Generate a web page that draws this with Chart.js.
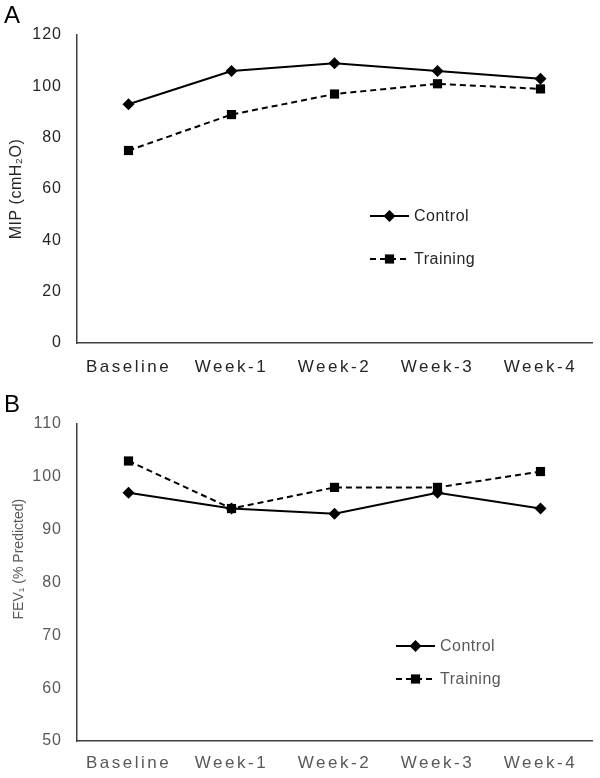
<!DOCTYPE html>
<html lang="en">
<head>
<meta charset="UTF-8">
<title>MIP and FEV1 over training</title>
<script src="https://cdn.jsdelivr.net/npm/chart.js"></script>
<style>
  body { margin: 0; background: #fff; font-family: "Liberation Sans", Arial, sans-serif; }
  #wrap { position: relative; width: 600px; height: 778px; }
  .panel { position: absolute; left: 0; width: 600px; height: 389px; }
  .letter { position: absolute; left: 4px; font-size: 24px; color: #000; line-height: 1; }
</style>
</head>
<body>
<div id="wrap">
  <div class="panel" style="top:0"><canvas id="chartA" width="600" height="389"></canvas></div>
  <div class="panel" style="top:389px"><canvas id="chartB" width="600" height="389"></canvas></div>
  <div class="letter" style="top:3px">A</div>
  <div class="letter" style="top:392px">B</div>
</div>
<script>
// categories
const weeks = ['Baseline', 'Week-1', 'Week-2', 'Week-3', 'Week-4'];

// panel A: MIP (cmH2O)
const mipControl = [93, 106, 109, 106, 103];
const mipTraining = [75, 89, 97, 101, 99];
const mipRange = [0, 120, 20];

// panel B: FEV1 (% predicted)
const fevControl = [97, 94, 93, 97, 94];
const fevTraining = [103, 94, 98, 98, 101];
const fevRange = [50, 110, 10];

const seriesNames = ['Control', 'Training'];

// draws the legend inside the plot, Excel style
const insideLegend = {
    id: 'insideLegend',
    afterDraw(chart, args, opts) {
        const ctx = chart.ctx;
        ctx.save();
        chart.data.datasets.forEach((ds, i) => {
            const y = opts.y + i * opts.gap;
            ctx.strokeStyle = '#000';
            ctx.lineWidth = 2;
            ctx.setLineDash(ds.borderDash || []);
            ctx.beginPath();
            ctx.moveTo(opts.x, y);
            ctx.lineTo(opts.x + opts.len, y);
            ctx.stroke();
            ctx.setLineDash([]);
            const cx = opts.x + opts.len / 2;
            const r = ds.pointRadius;
            ctx.fillStyle = '#000';
            ctx.beginPath();
            if (ds.pointStyle === 'rectRot') {
                ctx.moveTo(cx - r, y);
                ctx.lineTo(cx, y - r);
                ctx.lineTo(cx + r, y);
                ctx.lineTo(cx, y + r);
            } else {
                const h = r * Math.SQRT1_2;
                ctx.rect(cx - h, y - h, 2 * h, 2 * h);
            }
            ctx.closePath();
            ctx.fill();
            ctx.font = opts.font;
            ctx.fillStyle = opts.color;
            ctx.letterSpacing = '0.5px';
            ctx.textAlign = 'left';
            ctx.textBaseline = 'middle';
            ctx.fillText(ds.label, opts.x + opts.len + 5, y + 1);
            ctx.letterSpacing = '0px';
        });
        ctx.restore();
    }
};

// the original labels are spread out a bit
const spacing = {
    id: 'spacing',
    beforeDraw(chart, args, opts) {
        const wrap = (scale, fn, sp) => {
            if (!scale || scale['_sp_' + fn]) return;
            const orig = scale[fn];
            scale[fn] = function (...a) {
                const c = this.ctx;
                c.save();
                c.letterSpacing = sp;
                orig.apply(this, a);
                c.restore();
            };
            scale['_sp_' + fn] = true;
        };
        wrap(chart.scales.x, 'drawLabels', opts.x);
        wrap(chart.scales.y, 'drawLabels', opts.y);
        wrap(chart.scales.y, 'drawTitle', opts.title);
    }
};

function makeChart(id, control, training, range, cfg) {
    const ctx = document.getElementById(id).getContext('2d');
    return new Chart(ctx, {
        type: 'line',
        data: {
            labels: weeks,
            datasets: [{
                label: seriesNames[0],
                data: control,
                borderColor: '#000',
                borderWidth: 2,
                pointStyle: 'rectRot',
                pointRadius: 6,
                pointHoverRadius: 6,
                pointBackgroundColor: '#000',
                pointBorderWidth: 0,
                tension: 0,
                clip: false
            }, {
                label: seriesNames[1],
                data: training,
                borderColor: '#000',
                borderWidth: 2,
                borderDash: [6, 4],
                pointStyle: 'rect',
                pointRadius: 6.5,
                pointHoverRadius: 6.5,
                pointBackgroundColor: '#000',
                pointBorderWidth: 0,
                tension: 0,
                clip: false
            }]
        },
        options: {
            responsive: false,
            animation: false,
            layout: { padding: { top: cfg.top, right: 8, left: 0, bottom: 0 } },
            scales: {
                x: {
                    offset: true,
                    grid: { display: false, drawTicks: false },
                    border: { display: true, color: '#404040', width: 1.5 },
                    ticks: {
                        color: cfg.color,
                        padding: cfg.xPad,
                        font: { family: 'Liberation Sans', size: 17 },
                        maxRotation: 0
                    },
                    afterFit: s => { s.height = cfg.xHeight; }
                },
                y: {
                    min: range[0],
                    max: range[1],
                    grid: { display: false, drawTicks: false },
                    border: { display: true, color: '#404040', width: 1.5 },
                    ticks: {
                        stepSize: range[2],
                        color: cfg.color,
                        padding: 15,
                        font: { family: 'Liberation Sans', size: 16 }
                    },
                    title: {
                        display: true,
                        text: cfg.title,
                        color: cfg.color,
                        padding: { top: cfg.titlePad, bottom: 0 },
                        font: { family: 'Liberation Sans', size: cfg.titleSize }
                    },
                    afterFit: s => { s.width = 77; }
                }
            },
            plugins: {
                legend: { display: false },
                tooltip: { enabled: false },
                insideLegend: {
                    x: cfg.legendX, y: cfg.legendY, gap: cfg.legendGap, len: 39,
                    font: '16px "Liberation Sans"', color: cfg.color
                },
                spacing: { x: '2.5px', y: '1px', title: cfg.titleSpacing }
            }
        },
        plugins: [insideLegend, spacing]
    });
}

makeChart('chartA', mipControl, mipTraining, mipRange, {
    top: 35, xHeight: 389 - 343, xPad: 14, color: '#262626',
    title: 'MIP (cmH\u2082O)', titleSize: 16, titlePad: 7, titleSpacing: '0.5px',
    legendX: 370, legendY: 216, legendGap: 43
});

// the FEV1 title sits a little above the middle of the axis in the original
makeChart('chartB', fevControl, fevTraining, fevRange, {
    top: 424 - 389, xHeight: 389 - (741 - 389), xPad: 12, color: '#595959',
    title: '\u00a0'.repeat(12) + 'FEV\u2081 (% Predicted)', titleSize: 14, titlePad: 11, titleSpacing: '0px',
    legendX: 396, legendY: 646 - 389, legendGap: 33
});
</script>
</body>
</html>
